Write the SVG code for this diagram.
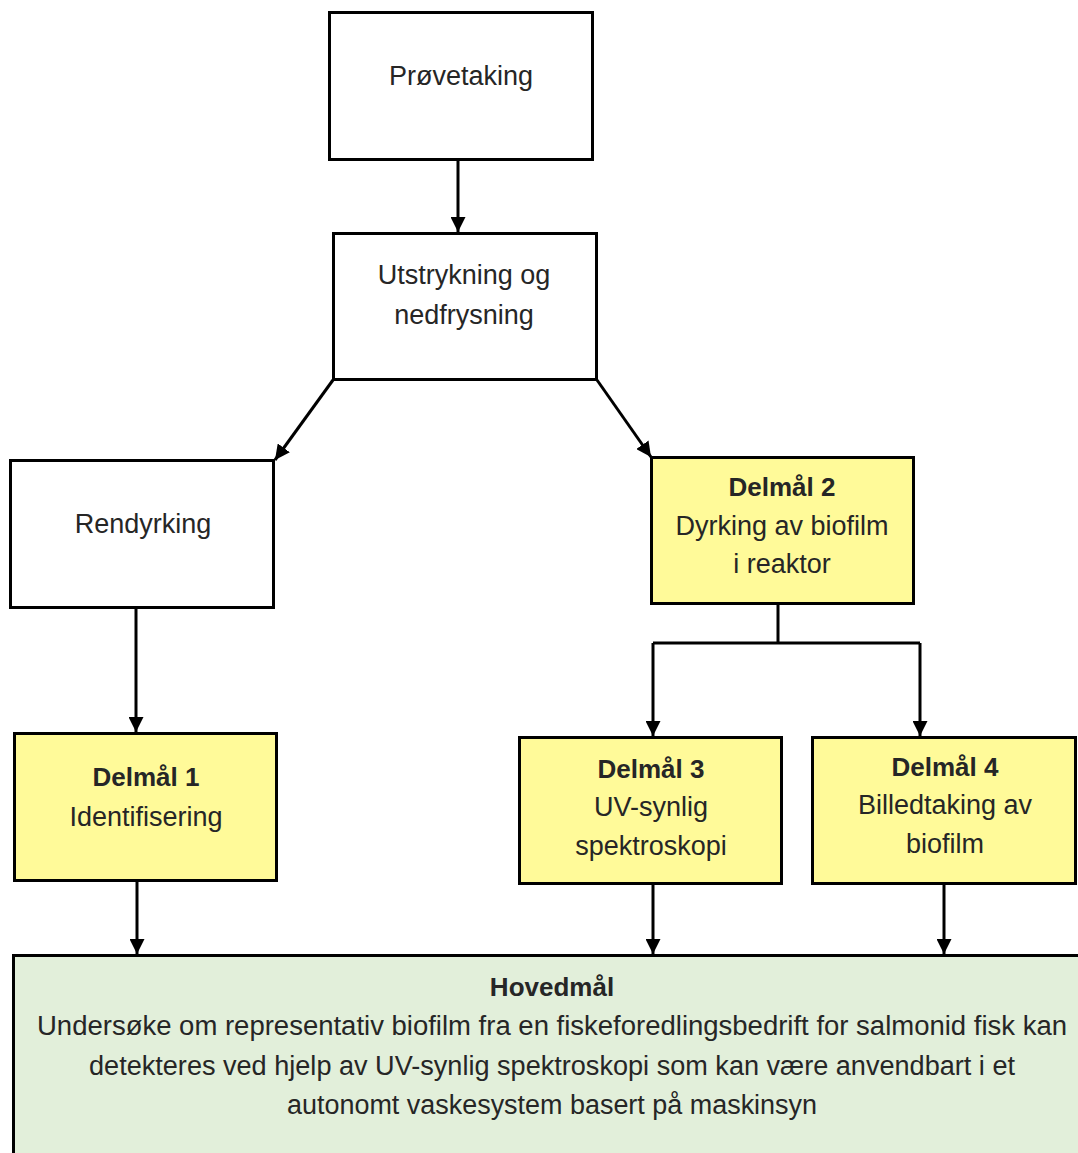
<svg xmlns="http://www.w3.org/2000/svg" width="1078" height="1153" viewBox="0 0 1078 1153">
<defs>
<style>
.box{stroke:#000;stroke-width:3;}
.w{fill:#fff;}
.y{fill:#FFFA99;}
.g{fill:#E2EFDA;}
text{font-family:"Liberation Sans",Arial,sans-serif;font-size:27px;fill:#262626;text-anchor:middle;}
.b{font-weight:bold;font-size:26px;}
.c{stroke:#000;stroke-width:3;fill:none;}
</style>
<marker id="ah" viewBox="0 0 10 10" refX="10" refY="5" markerWidth="15" markerHeight="15" markerUnits="userSpaceOnUse" orient="auto">
<path d="M0,0 L10,5 L0,10 Z" fill="#000"/>
</marker>
</defs>
<rect width="1078" height="1153" fill="#fff"/>
<g id="connectors">
<path class="c" d="M458,160 V232" marker-end="url(#ah)"/>
<path class="c" d="M333,380 L275,460" marker-end="url(#ah)"/>
<path class="c" d="M597,380 L651,457" marker-end="url(#ah)"/>
<path class="c" d="M136,607 V732" marker-end="url(#ah)"/>
<path class="c" d="M778,604 V643 M653,643 H920"/>
<path class="c" d="M653,643 V736" marker-end="url(#ah)"/>
<path class="c" d="M920,643 V736" marker-end="url(#ah)"/>
<path class="c" d="M137,880 V954" marker-end="url(#ah)"/>
<path class="c" d="M653,884 V954" marker-end="url(#ah)"/>
<path class="c" d="M944,884 V954" marker-end="url(#ah)"/>
</g>
<g id="provetaking">
<rect class="box w" x="329.5" y="12.5" width="263" height="147"/>
<text x="461" y="85">Prøvetaking</text>
</g>
<g id="utstrykning">
<rect class="box w" x="333.5" y="233.5" width="263" height="146"/>
<text x="464" y="284">Utstrykning og</text>
<text x="464" y="324">nedfrysning</text>
</g>
<g id="rendyrking">
<rect class="box w" x="10.5" y="460.5" width="263" height="147"/>
<text x="143" y="533">Rendyrking</text>
</g>
<g id="delmal2">
<rect class="box y" x="651.5" y="457.5" width="262" height="146"/>
<text class="b" x="782" y="496">Delmål 2</text>
<text x="782" y="535">Dyrking av biofilm</text>
<text x="782" y="573">i reaktor</text>
</g>
<g id="delmal1">
<rect class="box y" x="14.5" y="733.5" width="262" height="147"/>
<text class="b" x="146" y="786">Delmål 1</text>
<text x="146" y="826">Identifisering</text>
</g>
<g id="delmal3">
<rect class="box y" x="519.5" y="737.5" width="262" height="146"/>
<text class="b" x="651" y="778">Delmål 3</text>
<text x="651" y="816">UV-synlig</text>
<text x="651" y="855">spektroskopi</text>
</g>
<g id="delmal4">
<rect class="box y" x="812.5" y="737.5" width="263" height="146"/>
<text class="b" x="945" y="776">Delmål 4</text>
<text x="945" y="814">Billedtaking av</text>
<text x="945" y="853">biofilm</text>
</g>
<g id="hovedmal">
<rect class="box g" x="13.5" y="955.5" width="1080" height="220"/>
<text class="b" x="552" y="996">Hovedmål</text>
<text x="552" y="1035" textLength="1030" lengthAdjust="spacingAndGlyphs">Undersøke om representativ biofilm fra en fiskeforedlingsbedrift for salmonid fisk kan</text>
<text x="552" y="1075" textLength="926" lengthAdjust="spacingAndGlyphs">detekteres ved hjelp av UV-synlig spektroskopi som kan være anvendbart i et</text>
<text x="552" y="1114" textLength="530" lengthAdjust="spacingAndGlyphs">autonomt vaskesystem basert på maskinsyn</text>
</g>
</svg>
